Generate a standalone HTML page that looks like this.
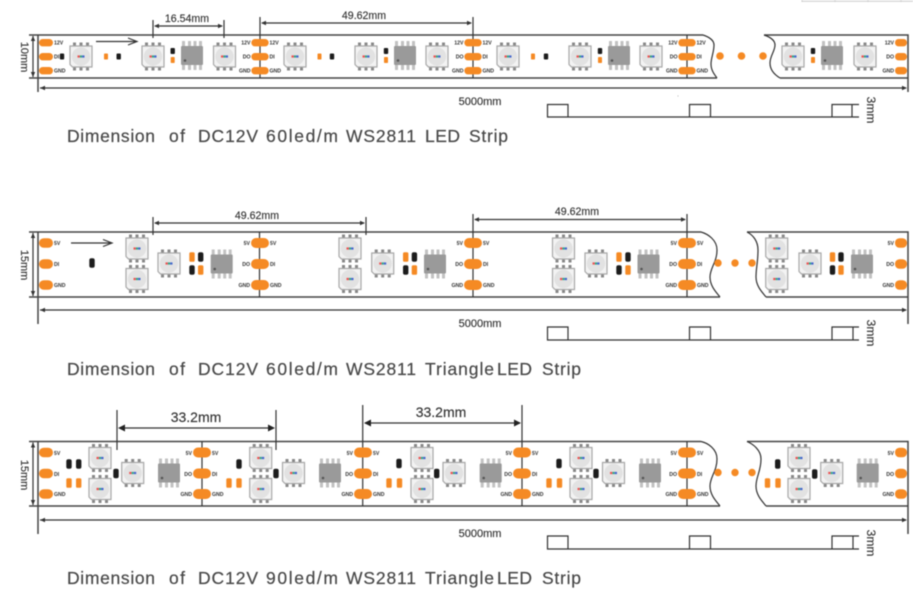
<!DOCTYPE html>
<html><head><meta charset="utf-8"><style>
html,body{margin:0;padding:0;background:#fff}
svg{display:block;filter:blur(.4px)}
text{font-family:"Liberation Sans",sans-serif;fill:#333}
.l{font-size:5.2px;font-weight:bold;fill:#333}
.e{text-anchor:end}
.d{font-size:10.6px;text-anchor:middle;stroke:#333;stroke-width:.15}
.t{font-size:17.5px;fill:#484848;stroke:#484848;stroke-width:.2}
.r{font-size:11px;text-anchor:middle;stroke:#333;stroke-width:.15}
.s{stroke:#333;stroke-width:1.2;fill:none}
.g{stroke:#444;stroke-width:1.5;fill:none}
</style></head><body>
<svg width="913" height="590" viewBox="0 0 913 590" xmlns="http://www.w3.org/2000/svg">
<defs>
<g id="led">
<g fill="#888"><rect x="-8" y="-14" width="3" height="3.5"/><rect x="-1.5" y="-14" width="3" height="3.5"/><rect x="5" y="-14" width="3" height="3.5"/><rect x="-8" y="10.5" width="3" height="3.5"/><rect x="-1.5" y="10.5" width="3" height="3.5"/><rect x="5" y="10.5" width="3" height="3.5"/></g>
<path d="M-11,-10.5H11V10.5H-8.5L-11,8Z" fill="#f3f3f3" stroke="#a8a8a8" stroke-width="1.2"/>
<circle r="9.2" fill="#e2e2e2"/>
<rect x="-3.5" y="-1.1" width="2.4" height="2.2" fill="#e55"/><rect x="-1.1" y="-1.1" width="2.2" height="2.2" fill="#3a8"/><rect x="1.1" y="-1.1" width="2.4" height="2.2" fill="#46c"/>
</g>
<g id="ic">
<g fill="#c2c2c2"><rect x="-10" y="-14.5" width="3" height="5"/><rect x="-4" y="-14.5" width="3" height="5"/><rect x="1.5" y="-14.5" width="3" height="5"/><rect x="7" y="-14.5" width="3" height="5"/><rect x="-10" y="9.5" width="3" height="5"/><rect x="-4" y="9.5" width="3" height="5"/><rect x="1.5" y="9.5" width="3" height="5"/><rect x="7" y="9.5" width="3" height="5"/></g>
<rect x="-11" y="-9.5" width="22" height="19" rx="1" fill="#9a9a9a"/>
<circle cx="-7" cy="5" r="1.3" fill="#555"/>
</g>
<rect id="b1" x="-2.2" y="-3" width="4.4" height="6" rx="1" fill="#1c1c1c"/>
<rect id="o1" x="-2" y="-3" width="4" height="6" rx=".8" fill="#f58a24"/>
<rect id="b2" x="-2.7" y="-4.8" width="5.4" height="9.6" rx="2" fill="#1c1c1c"/>
<rect id="o2" x="-2.7" y="-4.8" width="5.4" height="9.6" rx="1.6" fill="#f58a24"/>
<rect id="p1" x="-8.7" y="-3.7" width="17.4" height="7.4" rx="3.7" fill="#f58a24"/>
<rect id="p2" x="-9" y="-5" width="18" height="10" rx="5" fill="#f58a24"/>
<rect id="s1" x="0" y="-3.7" width="14" height="7.4" rx="3.7" fill="#f58a24"/>
<rect id="s2" x="0" y="-4.8" width="14" height="9.6" rx="4.8" fill="#f58a24"/>
<rect id="e1" x="0" y="-3.7" width="12" height="7.4" rx="3.5" fill="#f58a24"/>
<rect id="e2" x="0" y="-4.8" width="12" height="9.6" rx="4.5" fill="#f58a24"/>
<path id="al" d="M0,0L5,-2.2V2.2Z" fill="#333"/>
<path id="ar" d="M0,0L-5,-2.2V2.2Z" fill="#333"/>
<path id="alb" d="M0,0L7,-3.5V3.5Z" fill="#222"/>
<path id="arb" d="M0,0L-7,-3.5V3.5Z" fill="#222"/>
</defs>

<!-- faint top-right lines -->
<path d="M802,1.2H913M802,0V2M835,0V2M868,0V2M901,0V2" stroke="#ccc" stroke-width="1" fill="none"/>
<circle cx="678" cy="96" r=".6" fill="#bbb"/>

<!-- ===== STRIP 1 ===== -->
<path class="g" d="M29,35H703M764,35H908V92"/>
<path class="g" d="M29,78H717M780,78H908"/>
<path class="s" d="M703,35C709,37 714,40 714,45C714,52 711,58 711,64C711,70 714,74 717,78"/>
<path class="s" d="M764,35C770,37 775,40 775,45C775,51 770,56 770,63C770,70 775,75 780,78"/>
<path class="g" d="M38,35V92"/>
<path class="s" d="M40,88H906"/><use href="#al" x="40" y="88"/><use href="#ar" x="907" y="88"/>
<path class="s" d="M33,36V77"/><use href="#al" transform="translate(33,36) rotate(90)"/><use href="#ar" transform="translate(33,77) rotate(90)"/>
<text class="r" transform="translate(21,57) rotate(90)">10mm</text>
<path class="s" d="M153,20V38M224,20V38M155,26H222"/><use href="#al" x="154" y="26"/><use href="#ar" x="223" y="26"/>
<text class="d" x="187" y="22">16.54mm</text>
<path class="s" d="M260,17V78M473,17V78M687,35V78M262,23H471"/><use href="#al" x="261" y="23"/><use href="#ar" x="472" y="23"/>
<text class="d" x="364" y="19">49.62mm</text>
<path class="s" d="M96,41.5H136M128,38L137,41.5L128,45"/>
<use href="#s1" x="39" y="42.7"/><use href="#s1" x="39" y="56.7"/><use href="#s1" x="39" y="70.7"/>
<use href="#e1" x="895" y="42.7"/><use href="#e1" x="895" y="56.7"/><use href="#e1" x="895" y="70.7"/>
<use href="#p1" x="260" y="42.7"/><use href="#p1" x="260" y="56.7"/><use href="#p1" x="260" y="70.7"/>
<use href="#p1" x="473" y="42.7"/><use href="#p1" x="473" y="56.7"/><use href="#p1" x="473" y="70.7"/>
<use href="#p1" x="687" y="42.7"/><use href="#p1" x="687" y="56.7"/><use href="#p1" x="687" y="70.7"/>
<g>
<use href="#led" x="81" y="56.5"/><use href="#led" x="153" y="56.5"/><use href="#led" x="224.5" y="56.5"/><use href="#led" x="295" y="56.5"/><use href="#led" x="366" y="56.5"/><use href="#led" x="437" y="56.5"/><use href="#led" x="508" y="56.5"/><use href="#led" x="580" y="56.5"/><use href="#led" x="651" y="56.5"/><use href="#led" x="793" y="56.5"/><use href="#led" x="865" y="56.5"/>
<use href="#ic" x="192" y="55.5"/><use href="#ic" x="405" y="55.5"/><use href="#ic" x="619" y="55.5"/><use href="#ic" x="832" y="55.5"/>
<use href="#b1" x="62" y="56.5"/><use href="#o1" x="106" y="56.5"/><use href="#b1" x="118.7" y="56.5"/><use href="#o1" x="319.5" y="56.5"/><use href="#b1" x="332" y="56.5"/><use href="#o1" x="533" y="56.5"/><use href="#b1" x="546" y="56.5"/>
<use href="#b1" x="172.7" y="51"/><use href="#o1" x="172.7" y="60"/><use href="#b1" x="386" y="51"/><use href="#o1" x="386" y="60"/><use href="#b1" x="600" y="51"/><use href="#o1" x="600" y="60"/><use href="#b1" x="813" y="51"/><use href="#o1" x="813" y="60"/>
</g>
<g fill="#f58a24"><circle cx="720" cy="56" r="3.8"/><circle cx="741.5" cy="56" r="3.8"/><circle cx="763" cy="56" r="3.8"/></g>
<text class="l" x="54" y="44.7">12V</text><text class="l" x="54" y="58.7">DI</text><text class="l" x="54" y="72.7">GND</text>
<text class="l e" x="250.5" y="44.7">12V</text><text class="l e" x="250.5" y="58.7">DO</text><text class="l e" x="250.5" y="72.7">GND</text>
<text class="l" x="269.5" y="44.7">12V</text><text class="l" x="269.5" y="58.7">DI</text><text class="l" x="269.5" y="72.7">GND</text>
<text class="l e" x="463.5" y="44.7">12V</text><text class="l e" x="463.5" y="58.7">DO</text><text class="l e" x="463.5" y="72.7">GND</text>
<text class="l" x="482.5" y="44.7">12V</text><text class="l" x="482.5" y="58.7">DI</text><text class="l" x="482.5" y="72.7">GND</text>
<text class="l e" x="677.5" y="44.7">12V</text><text class="l e" x="677.5" y="58.7">DO</text><text class="l e" x="677.5" y="72.7">GND</text>
<text class="l" x="696.5" y="44.7">12V</text><text class="l" x="696.5" y="58.7">DI</text><text class="l" x="696.5" y="72.7">GND</text>
<text class="l e" x="894" y="44.7">12V</text><text class="l e" x="894" y="58.7">DO</text><text class="l e" x="894" y="72.7">GND</text>
<text class="r" x="480" y="105">5000mm</text>
<path class="s" d="M547.5,117H859M547.5,104.5H568V117H547.5ZM689.5,104.5H710.5V117H689.5ZM832,104.5H852V117H832ZM852,104.5H859"/>
<text class="r" style="font-size:12px" transform="translate(867,110) rotate(90)">3mm</text>
<text class="t" x="67" y="142" textLength="88" lengthAdjust="spacing">Dimension</text><text class="t" x="169" y="142" textLength="16" lengthAdjust="spacing">of</text><text class="t" x="198" y="142" textLength="60" lengthAdjust="spacing">DC12V</text><text class="t" x="266" y="142" textLength="72" lengthAdjust="spacing">60led/m</text><text class="t" x="346" y="142" textLength="70" lengthAdjust="spacing">WS2811</text><text class="t" x="425" y="142" textLength="35" lengthAdjust="spacing">LED</text><text class="t" x="469" y="142" textLength="39" lengthAdjust="spacing">Strip</text>

<!-- ===== STRIP 2 ===== -->
<path class="g" d="M29,232H701M747,232H908V324"/>
<path class="g" d="M29,297H720M766,297H908"/>
<path class="s" d="M701,232C708,234 717,240 717,250C717,262 710,268 710,277C710,286 716,292 720,297"/>
<path class="s" d="M747,232C753,235 758,241 758,250C758,262 756,268 756,277C756,286 762,292 766,297"/>
<path class="g" d="M38,232V324"/>
<path class="s" d="M40,310H906"/><use href="#al" x="40" y="310"/><use href="#ar" x="907" y="310"/>
<path class="s" d="M33,233V296"/><use href="#al" transform="translate(33,233) rotate(90)"/><use href="#ar" transform="translate(33,296) rotate(90)"/>
<text class="r" transform="translate(21,265) rotate(90)">15mm</text>
<path class="s" d="M153,217V235M366,217V235M155,223H364"/><use href="#al" x="154" y="223"/><use href="#ar" x="365" y="223"/>
<text class="d" x="257" y="219">49.62mm</text>
<path class="s" d="M259.5,232V297M473,214V297M687,214V297M475,219.5H685"/><use href="#al" x="474" y="219.5"/><use href="#ar" x="686" y="219.5"/>
<text class="d" x="577" y="215">49.62mm</text>
<path class="s" d="M71,243H111M103,239.5L112,243L103,246.5"/>
<use href="#s2" x="39" y="243"/><use href="#s2" x="39" y="264"/><use href="#s2" x="39" y="285"/>
<use href="#e2" x="895" y="243"/><use href="#e2" x="895" y="264"/><use href="#e2" x="895" y="285"/>
<use href="#p2" x="260" y="243"/><use href="#p2" x="260" y="264"/><use href="#p2" x="260" y="285"/>
<use href="#p2" x="473" y="243"/><use href="#p2" x="473" y="264"/><use href="#p2" x="473" y="285"/>
<use href="#p2" x="687" y="243"/><use href="#p2" x="687" y="264"/><use href="#p2" x="687" y="285"/>
<use href="#b2" x="92" y="263"/>
<use href="#led" x="137" y="248.5"/><use href="#led" x="137" y="279"/><use href="#led" x="169" y="263.5"/><use href="#ic" x="221.7" y="264"/>
<use href="#o2" x="192" y="257"/><use href="#b2" x="200.7" y="257"/><use href="#b2" x="192" y="270"/><use href="#o2" x="200.7" y="270"/>
<use href="#led" x="350" y="248.5"/><use href="#led" x="350" y="279"/><use href="#led" x="382.7" y="263.5"/><use href="#ic" x="435" y="264"/>
<use href="#o2" x="405.7" y="257"/><use href="#b2" x="414.4" y="257"/><use href="#b2" x="405.7" y="270"/><use href="#o2" x="414.4" y="270"/>
<use href="#led" x="563.5" y="248.5"/><use href="#led" x="563.5" y="279"/><use href="#led" x="596" y="263.5"/><use href="#ic" x="648.5" y="264"/>
<use href="#o2" x="619" y="257"/><use href="#b2" x="628" y="257"/><use href="#b2" x="619" y="270"/><use href="#o2" x="628" y="270"/>
<use href="#led" x="776.7" y="248.5"/><use href="#led" x="776.7" y="279"/><use href="#led" x="810" y="263.5"/><use href="#ic" x="862" y="264"/>
<use href="#o2" x="832.5" y="257"/><use href="#b2" x="841" y="257"/><use href="#b2" x="832.5" y="270"/><use href="#o2" x="841" y="270"/>
<g fill="#f58a24"><circle cx="718" cy="263" r="3.7"/><circle cx="735" cy="263" r="3.7"/><circle cx="752" cy="263" r="3.7"/></g>
<text class="l" x="54" y="245">5V</text><text class="l" x="54" y="266">DI</text><text class="l" x="54" y="287">GND</text>
<text class="l e" x="250" y="245">5V</text><text class="l e" x="250" y="266">DO</text><text class="l e" x="250" y="287">GND</text>
<text class="l" x="270" y="245">5V</text><text class="l" x="270" y="266">DI</text><text class="l" x="270" y="287">GND</text>
<text class="l e" x="463" y="245">5V</text><text class="l e" x="463" y="266">DO</text><text class="l e" x="463" y="287">GND</text>
<text class="l" x="483" y="245">5V</text><text class="l" x="483" y="266">DI</text><text class="l" x="483" y="287">GND</text>
<text class="l e" x="677" y="245">5V</text><text class="l e" x="677" y="266">DO</text><text class="l e" x="677" y="287">GND</text>
<text class="l" x="697" y="245">5V</text><text class="l" x="697" y="266">DI</text><text class="l" x="697" y="287">GND</text>
<text class="l e" x="894" y="245">5V</text><text class="l e" x="894" y="266">DO</text><text class="l e" x="894" y="287">GND</text>
<text class="r" x="480" y="327">5000mm</text>
<path class="s" d="M547.5,340H859M547.5,327H568V340H547.5ZM689.5,327H710.5V340H689.5ZM832,327H853V340H832ZM853,327H859M853,327V340"/>
<text class="r" style="font-size:12px" transform="translate(867,333) rotate(90)">3mm</text>
<text class="t" x="67" y="375" textLength="88" lengthAdjust="spacing">Dimension</text><text class="t" x="169" y="375" textLength="16" lengthAdjust="spacing">of</text><text class="t" x="198" y="375" textLength="60" lengthAdjust="spacing">DC12V</text><text class="t" x="266" y="375" textLength="72" lengthAdjust="spacing">60led/m</text><text class="t" x="346" y="375" textLength="70" lengthAdjust="spacing">WS2811</text><text class="t" x="425" y="375" textLength="69" lengthAdjust="spacing">Triangle</text><text class="t" x="497" y="375" textLength="35" lengthAdjust="spacing">LED</text><text class="t" x="542" y="375" textLength="39" lengthAdjust="spacing">Strip</text>

<!-- ===== STRIP 3 ===== -->
<path class="g" d="M29,441.5H701M747,441.5H908V534"/>
<path class="g" d="M29,506H720M766,506H908"/>
<path class="s" d="M701,441.5C708,443 717,449 717,459C717,471 710,477 710,486C710,495 716,501 720,506"/>
<path class="s" d="M747,441.5C753,444 761,450 761,459C761,471 756,477 756,486C756,495 762,501 766,506"/>
<path class="g" d="M38,441.5V534"/>
<path class="s" d="M40,520H906"/><use href="#al" x="40" y="520"/><use href="#ar" x="907" y="520"/>
<path class="s" d="M33,442.5V505"/><use href="#al" transform="translate(33,442.5) rotate(90)"/><use href="#ar" transform="translate(33,505) rotate(90)"/>
<text class="r" transform="translate(21,475) rotate(90)">15mm</text>
<path class="s" d="M117,410V450M276,410V450M120,428H273"/><use href="#alb" x="118" y="428"/><use href="#arb" x="275" y="428"/>
<text class="d" style="font-size:14px" x="196" y="422">33.2mm</text>
<path class="s" d="M202,441.5V506M362.7,405V506M522,405V506M687,441.5V506M365,423H520"/><use href="#alb" x="364" y="423"/><use href="#arb" x="521" y="423"/>
<text class="d" style="font-size:14px" x="441" y="417">33.2mm</text>
<use href="#s2" x="39" y="452.5"/><use href="#s2" x="39" y="473.5"/><use href="#s2" x="39" y="494"/>
<use href="#e2" x="895" y="452.5"/><use href="#e2" x="895" y="473.5"/><use href="#e2" x="895" y="494"/>
<use href="#p2" x="202" y="452.5"/><use href="#p2" x="202" y="473.5"/><use href="#p2" x="202" y="494"/>
<use href="#p2" x="363" y="452.5"/><use href="#p2" x="363" y="473.5"/><use href="#p2" x="363" y="494"/>
<use href="#p2" x="522" y="452.5"/><use href="#p2" x="522" y="473.5"/><use href="#p2" x="522" y="494"/>
<use href="#p2" x="687" y="452.5"/><use href="#p2" x="687" y="473.5"/><use href="#p2" x="687" y="494"/>
<use href="#b2" x="69" y="464"/><use href="#b2" x="78.7" y="464"/><use href="#o2" x="69" y="483"/><use href="#o2" x="78.7" y="483"/>
<use href="#led" x="100" y="458"/><use href="#led" x="100" y="489"/><use href="#b2" x="116" y="473.5"/><use href="#led" x="132.7" y="473"/><use href="#ic" x="169" y="473"/>
<use href="#b2" x="239" y="464"/><use href="#o2" x="229" y="483"/><use href="#o2" x="239" y="483"/>
<use href="#led" x="260.7" y="458"/><use href="#led" x="260.7" y="489"/><use href="#b2" x="276" y="473.5"/><use href="#led" x="293.5" y="473"/><use href="#ic" x="330" y="473"/>
<use href="#b2" x="399" y="463.5"/><use href="#o2" x="389" y="483"/><use href="#o2" x="399.5" y="483"/>
<use href="#led" x="422" y="458"/><use href="#led" x="422" y="489"/><use href="#b2" x="436.7" y="473.5"/><use href="#led" x="454" y="473"/><use href="#ic" x="490.7" y="473"/>
<use href="#b2" x="559" y="463.5"/><use href="#o2" x="549" y="483"/><use href="#o2" x="559.5" y="483"/>
<use href="#led" x="581" y="458"/><use href="#led" x="581" y="489"/><use href="#b2" x="596" y="473.5"/><use href="#led" x="613.5" y="473"/><use href="#ic" x="650" y="473"/>
<use href="#b2" x="777.7" y="464"/><use href="#o2" x="767.5" y="483"/><use href="#o2" x="778" y="483"/>
<use href="#led" x="799" y="458"/><use href="#led" x="799" y="489"/><use href="#b2" x="814.7" y="474"/><use href="#led" x="831.7" y="473"/><use href="#ic" x="867.7" y="473"/>
<g fill="#f58a24"><circle cx="718" cy="472.5" r="3.7"/><circle cx="735" cy="472.5" r="3.7"/><circle cx="752" cy="472.5" r="3.7"/></g>
<text class="l" x="54" y="455">5V</text><text class="l" x="54" y="476">DI</text><text class="l" x="54" y="496">GND</text>
<text class="l e" x="192" y="455">5V</text><text class="l e" x="192" y="476">DO</text><text class="l e" x="192" y="496">GND</text>
<text class="l" x="212" y="455">5V</text><text class="l" x="212" y="476">DI</text><text class="l" x="212" y="496">GND</text>
<text class="l e" x="353" y="455">5V</text><text class="l e" x="353" y="476">DO</text><text class="l e" x="353" y="496">GND</text>
<text class="l" x="373" y="455">5V</text><text class="l" x="373" y="476">DI</text><text class="l" x="373" y="496">GND</text>
<text class="l e" x="512" y="455">5V</text><text class="l e" x="512" y="476">DO</text><text class="l e" x="512" y="496">GND</text>
<text class="l" x="532" y="455">5V</text><text class="l" x="532" y="476">DI</text><text class="l" x="532" y="496">GND</text>
<text class="l e" x="677" y="455">5V</text><text class="l e" x="677" y="476">DO</text><text class="l e" x="677" y="496">GND</text>
<text class="l" x="697" y="455">5V</text><text class="l" x="697" y="476">DI</text><text class="l" x="697" y="496">GND</text>
<text class="l e" x="894" y="455">5V</text><text class="l e" x="894" y="476">DO</text><text class="l e" x="894" y="496">GND</text>
<text class="r" x="480" y="537">5000mm</text>
<path class="s" d="M547.5,549H859M547.5,536H568V549H547.5ZM689.5,536H710.5V549H689.5ZM832,536H853V549H832ZM853,536H859M853,536V549"/>
<text class="r" style="font-size:12px" transform="translate(867,543) rotate(90)">3mm</text>
<text class="t" x="67" y="584" textLength="88" lengthAdjust="spacing">Dimension</text><text class="t" x="169" y="584" textLength="16" lengthAdjust="spacing">of</text><text class="t" x="198" y="584" textLength="60" lengthAdjust="spacing">DC12V</text><text class="t" x="266" y="584" textLength="72" lengthAdjust="spacing">90led/m</text><text class="t" x="346" y="584" textLength="70" lengthAdjust="spacing">WS2811</text><text class="t" x="425" y="584" textLength="69" lengthAdjust="spacing">Triangle</text><text class="t" x="497" y="584" textLength="35" lengthAdjust="spacing">LED</text><text class="t" x="542" y="584" textLength="39" lengthAdjust="spacing">Strip</text>
</svg>
</body></html>
